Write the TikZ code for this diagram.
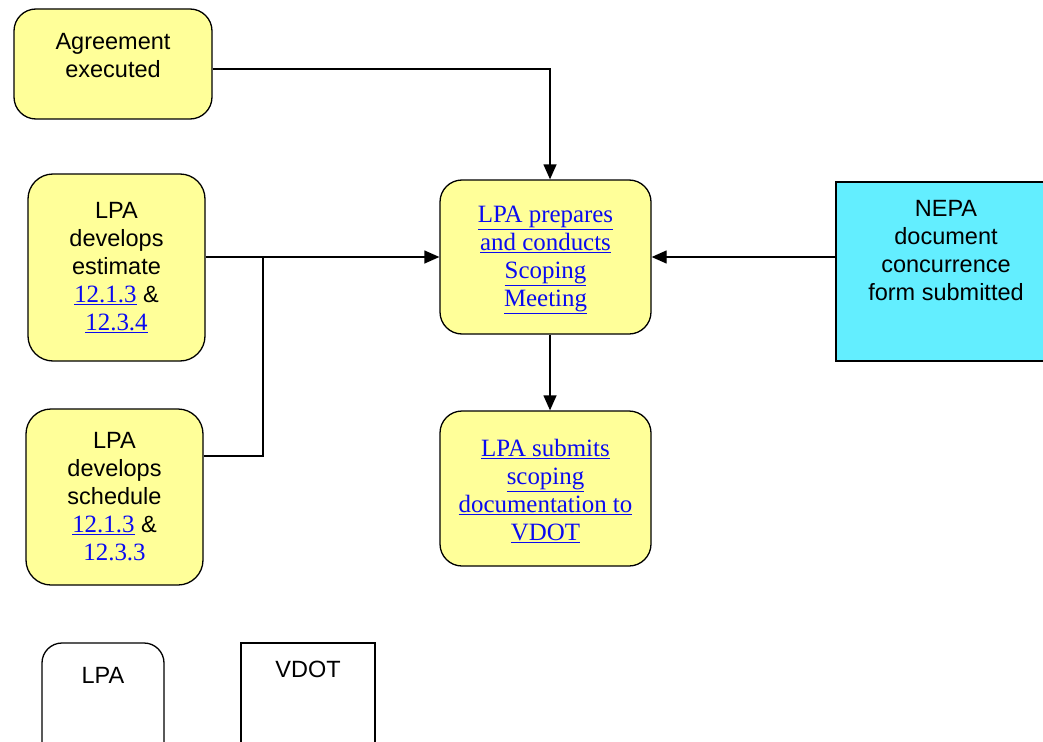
\documentclass[tikz,border=0pt]{standalone}
\usepackage{fontspec}
\setmainfont{Liberation Sans}
\newfontfamily\tmsfont[Scale=1.06]{Liberation Serif}
\usetikzlibrary{arrows.meta}
\definecolor{boxyellow}{RGB}{255,255,153}
\definecolor{nepacyan}{RGB}{99,238,255}
\definecolor{linkblue}{RGB}{10,10,240}
\newcommand{\lnk}[1]{{\tmsfont\color{linkblue}\underline{#1}}}
\newcommand{\plainlnk}[1]{{\tmsfont\color{linkblue}#1}}
\begin{document}
\begin{tikzpicture}[x=1pt,y=-1pt, line width=1.3pt,
  every node/.style={font=\fontsize{23.5}{28}\selectfont},
  ybox/.style={draw, fill=boxyellow, rounded corners=22pt, align=center, inner sep=0pt},
  cbox/.style={draw, fill=nepacyan, inner sep=0pt},
  wbox/.style={draw, fill=white, inner sep=0pt},
  txt/.style={align=center, inner sep=0pt},
  arr/.style={-{Triangle[length=15pt,width=13pt]}}]
\useasboundingbox (0,0) rectangle (1043,741);
\clip (0,0) rectangle (1043,741);
% boxes
\node[ybox, minimum width=198pt, minimum height=110pt] (agr) at (113,64) {};
\node[txt] (agrt) at (113,56) {Agreement\\executed};
\node[ybox, rounded corners=25pt, minimum width=177pt, minimum height=187pt] (est) at (116.5,267.5)
  {LPA\\develops\\estimate\\\lnk{12.1.3} \&\\\lnk{12.3.4}};
\node[ybox, rounded corners=25pt, minimum width=177pt, minimum height=176pt] (sch) at (114.5,497)
  {LPA\\develops\\schedule\\\lnk{12.1.3} \&\\\plainlnk{12.3.3}};
\node[ybox, minimum width=211pt, minimum height=154pt] (scope) at (545.5,257) {};
\node[txt] (scopet) at (545.5,260)
  {\lnk{LPA prepares}\\\lnk{and conducts}\\\lnk{Scoping}\\\lnk{Meeting}};
\node[ybox, minimum width=211pt, minimum height=155pt] (sub) at (545.5,488.5) {};
\node[txt] (subt) at (545.5,491)
  {\lnk{LPA submits}\\\lnk{scoping}\\\lnk{documentation to}\\\lnk{VDOT}};
\node[cbox, minimum width=220pt, minimum height=179pt] (nepa) at (946,271.5) {};
\node[txt] (nepat) at (946,251) {NEPA\\document\\concurrence\\form submitted};
% legend
\node[wbox, rounded corners=20pt, minimum width=122pt, minimum height=120pt] (lpal) at (103,703) {};
\node[txt] (lpat) at (103,675) {LPA};
\node[wbox, minimum width=134pt, minimum height=120pt] (vdotl) at (308,703) {};
\node[txt] (vdott) at (308,669) {VDOT};
% connectors
\coordinate (j) at (263,257);
\draw[arr] ([yshift=-5pt]agr.east) -| ([xshift=4.5pt]scope.north);
\draw[arr] (est.east |- scope.west) -- (scope.west);
\draw ([yshift=41pt]sch.east) -| (j);
\draw[arr] (nepa.west |- scope.east) -- (scope.east);
\draw[arr] ([xshift=4.5pt]scope.south) -- ([xshift=4.5pt]sub.north);
\end{tikzpicture}
\end{document}
